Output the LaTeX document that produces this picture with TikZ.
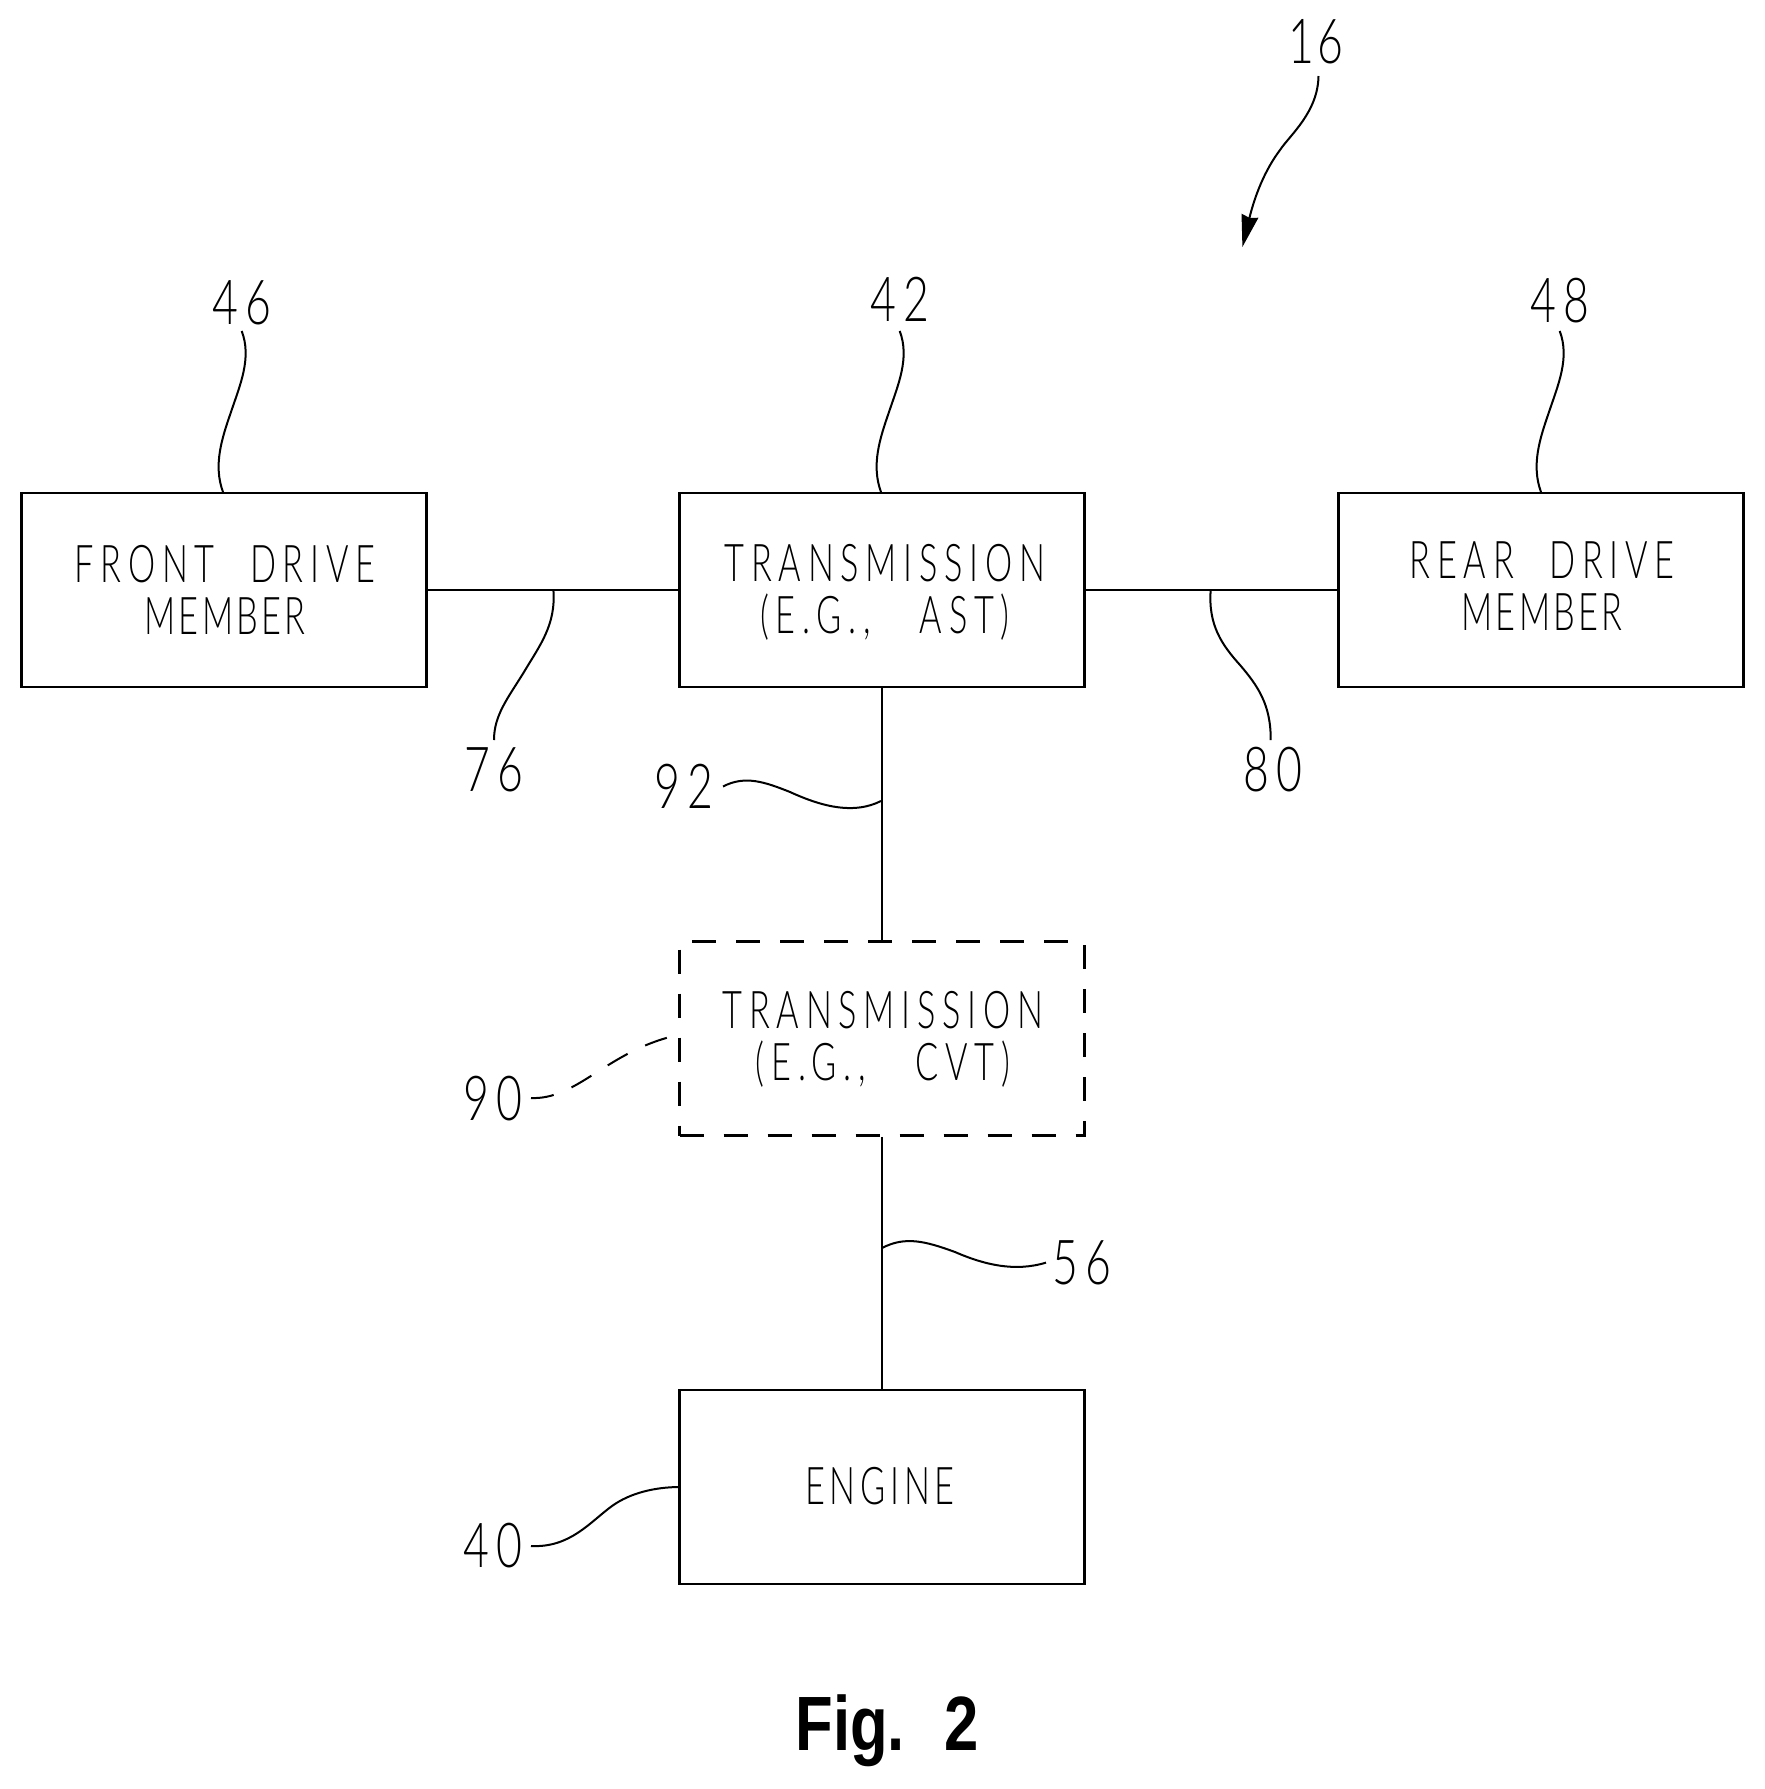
\documentclass[tikz,border=0pt]{standalone}
\usepackage{fontspec}
\usetikzlibrary{arrows.meta}
\newfontfamily\cadfont[FakeStretch=0.66,LetterSpace=13,WordSpace=2.2]{Lato Light}
\newfontfamily\cadmid[FakeStretch=0.66,LetterSpace=9]{Lato Light}
\newfontfamily\cadtight[FakeStretch=0.66,LetterSpace=6.4]{Lato Light}
\newfontfamily\cadnum[FakeStretch=0.72,LetterSpace=12]{Lato Light}
\newfontfamily\cadnumtight[FakeStretch=0.72,LetterSpace=6]{Lato Light}
\newfontfamily\figfont[FakeStretch=0.8,WordSpace=1.15]{Liberation Sans Bold}
\tikzset{
  blockbox/.style={draw=black,line width=1.3pt,minimum width=202.5pt,minimum height=97pt,inner sep=0pt,line join=miter},
  dashbox/.style={blockbox,dash pattern=on 12pt off 10pt},
  blocktext/.style={font=\cadfont\fontsize{26}{26}\selectfont,align=center,inner sep=0pt,text=black},
  reflabel/.style={font=\cadnum\fontsize{31}{31}\selectfont,inner sep=0pt,text=black},
  figlabel/.style={font=\figfont\fontsize{38.5}{38.5}\selectfont,inner sep=0pt,anchor=base,text=black},
  shaft/.style={draw=black,line width=1.4pt},
  leader/.style={draw=black,line width=1pt},
  dashleader/.style={leader,dash pattern=on 11.5pt off 9.7pt},
}
\begin{document}
\begin{tikzpicture}[x=0.5pt,y=-0.5pt]
\useasboundingbox (0,0) rectangle (1765,1789);
% blocks
\node[blockbox] (front) at (224,590) {};
\node[blockbox] (trans) at (882,590) {};
\node[blockbox] (rear) at (1541,590) {};
\node[dashbox] (cvt) at (882,1038.5) {};
\node[blockbox] (engine) at (882,1487) {};
% block texts
\node[blocktext] (fronttext) at (225,589.5) {FRONT DRIVE\\{\cadtight MEMBER}};
\node[blocktext] (transtext) at (885,592.5) {TRANSMISSION\\(E.G., \hspace{7pt}AST)};
\node[blocktext] (reartext) at (1542,586.5) {REAR DRIVE\\{\cadtight MEMBER}};
\node[blocktext] (cvttext) at (883,1039) {TRANSMISSION\\(E.G., \hspace{7pt}CVT)};
\node[blocktext,font=\cadmid\fontsize{26}{26}\selectfont] (enginetext) at (880,1486.5) {ENGINE};
% connectors
\draw[shaft] (front.east) -- (trans.west);
\draw[shaft] (trans.east) -- (rear.west);
\draw[shaft] (trans.south) -- (cvt.north);
\draw[shaft] (cvt.south) -- (engine.north);
% reference labels
\node[reflabel,font=\cadnumtight\fontsize{31}{31}\selectfont] (n16) at (1316,42) {16};
\node[reflabel] (n46) at (242,302.6) {46};
\node[reflabel] (n42) at (900,299) {42};
\node[reflabel] (n48) at (1560,301) {48};
\node[reflabel] (n76) at (494,770) {76};
\node[reflabel] (n80) at (1273,770) {80};
\node[reflabel] (n92) at (684,786) {92};
\node[reflabel] (n90) at (493,1099) {90};
\node[reflabel] (n56) at (1082,1263) {56};
\node[reflabel] (n40) at (493,1545.6) {40};
\node[figlabel] (fig) at (887,1750) {Fig.\ \ 2};
% leader ends
\coordinate (a16) at (1318.5,76);
\coordinate (b16) at (1242.4,247);
\coordinate (a46) at (241.7,331);
\coordinate (b46) at (223,492);
\coordinate (a42) at (899.7,331);
\coordinate (b42) at (881,492);
\coordinate (a48) at (1559.7,331);
\coordinate (b48) at (1541,492);
\coordinate (a76) at (494,740);
\coordinate (b76) at (553.4,590);
\coordinate (a80) at (1270.7,740);
\coordinate (b80) at (1210.7,590);
\coordinate (a92) at (723,786.5);
\coordinate (b92) at (881,801);
\coordinate (a90) at (531,1098);
\coordinate (b90) at (668,1037.5);
\coordinate (a56) at (1046,1262.6);
\coordinate (b56) at (882,1248);
\coordinate (a40) at (531,1546);
\coordinate (b40) at (680,1487);
% leaders
\draw[leader,-{Stealth[length=16pt,width=8.5pt,inset=1pt]}] (a16) .. controls (1318,112) and (1290,135) .. (1280,150) .. controls (1265,170) and (1255,195) .. (b16);
\draw[leader] (a46) .. controls (252,358) and (240,385) .. (231,412) .. controls (222,438) and (213,465) .. (b46);
\draw[leader] (a42) .. controls (910,358) and (898,385) .. (889,412) .. controls (880,438) and (871,465) .. (b42);
\draw[leader] (a48) .. controls (1570,358) and (1558,385) .. (1549,412) .. controls (1540,438) and (1531,465) .. (b48);
\draw[leader] (b76) .. controls (556,625) and (540,645) .. (524,672) .. controls (508,698) and (494,715) .. (a76);
\draw[leader] (b80) .. controls (1208,625) and (1222,645) .. (1240,665) .. controls (1258,686) and (1271,705) .. (a80);
\draw[leader] (a92) .. controls (745,775) and (765,782) .. (790,792) .. controls (825,808) and (855,814) .. (b92);
\draw[dashleader] (a90) .. controls (575,1100) and (605,1055) .. (b90);
\draw[leader] (b56) .. controls (905,1236) and (925,1241) .. (955,1252) .. controls (985,1265) and (1015,1272) .. (a56);
\draw[leader] (a40) .. controls (570,1548) and (590,1522) .. (612,1506) .. controls (630,1493) and (655,1487) .. (b40);
\end{tikzpicture}
\end{document}
